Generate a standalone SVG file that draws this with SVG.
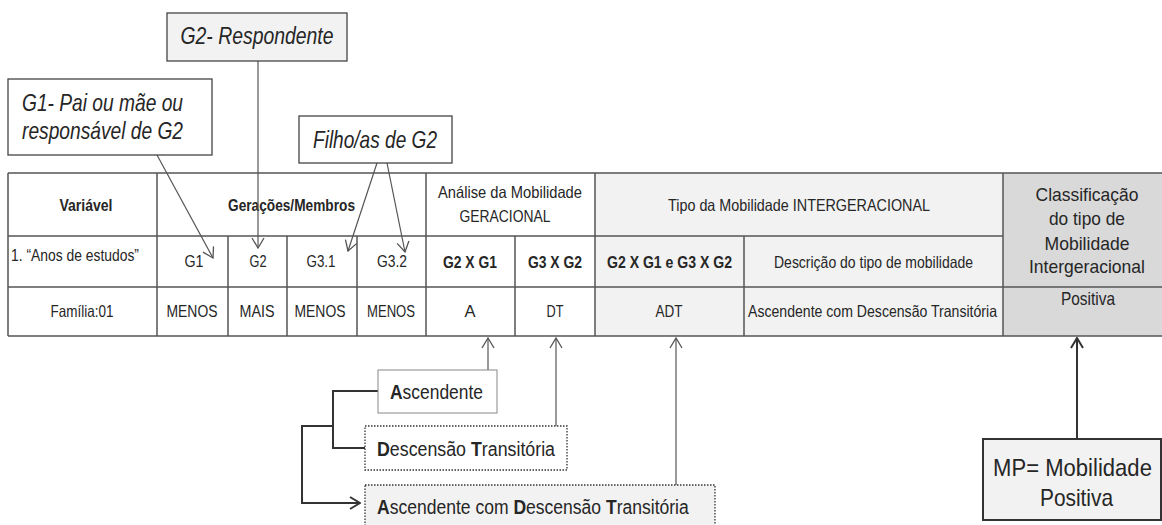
<svg xmlns="http://www.w3.org/2000/svg" width="1162" height="525" viewBox="0 0 1162 525">
<style>
text{font-family:"Liberation Sans Narrow","Liberation Sans",Arial,sans-serif;fill:#262626}
.t{font-size:16.5px}
.b{font-weight:bold}
.c{text-anchor:middle}
.cl{font-size:19px}
.it{font-size:24px;font-style:italic}
.lg{font-size:20px}
.mp{font-size:24px}
.grid{stroke:#555;stroke-width:1.5;fill:none}
.conn{stroke:#555;stroke-width:1.2;fill:none}
.dark{stroke:#333;stroke-width:2;fill:none}
</style>
<defs>
<marker id="ah" viewBox="0 0 12 14" refX="11" refY="7" markerWidth="12" markerHeight="14" markerUnits="userSpaceOnUse" orient="auto">
<path d="M1,1 L11,7 L1,13" fill="none" stroke="#555" stroke-width="1.3"/>
</marker>
<marker id="ahd" viewBox="0 0 12 14" refX="11" refY="7" markerWidth="12" markerHeight="14" markerUnits="userSpaceOnUse" orient="auto">
<path d="M1,1 L11,7 L1,13" fill="none" stroke="#333" stroke-width="2"/>
</marker>
</defs>
<rect width="1162" height="525" fill="#fff"/>

<g id="table">
<rect x="595" y="173" width="408" height="163" fill="#f2f2f2"/>
<rect x="1003" y="173" width="159" height="163" fill="#d9d9d9"/>
<path class="grid" d="M8,173 H1162 M8,336 H1162 M8,236 H1003 M8,287 H1162 M8,173 V336 M157,173 V336 M228,236 V336 M287,236 V336 M357,236 V336 M426,173 V336 M515,236 V336 M595,173 V336 M744,236 V336 M1003,173 V336"/>
<text class="t b c" x="86" y="211" textLength="53" lengthAdjust="spacingAndGlyphs">Variável</text>
<text class="t b c" x="291.5" y="211" textLength="127" lengthAdjust="spacingAndGlyphs">Gerações/Membros</text>
<text class="t c" x="510" y="198" textLength="144" lengthAdjust="spacingAndGlyphs">Análise  da Mobilidade</text>
<text class="t c" x="505" y="222" textLength="91" lengthAdjust="spacingAndGlyphs">GERACIONAL</text>
<text class="t c" x="799" y="211" textLength="262" lengthAdjust="spacingAndGlyphs">Tipo da Mobilidade  INTERGERACIONAL</text>
<text class="cl c" x="1087" y="201" textLength="103" lengthAdjust="spacingAndGlyphs">Classificação</text>
<text class="cl c" x="1087" y="225" textLength="76" lengthAdjust="spacingAndGlyphs">do tipo de</text>
<text class="cl c" x="1087" y="250" textLength="85" lengthAdjust="spacingAndGlyphs">Mobilidade</text>
<text class="cl c" x="1087" y="273" textLength="116" lengthAdjust="spacingAndGlyphs">Intergeracional</text>

<text class="t" x="11" y="261" textLength="128" lengthAdjust="spacingAndGlyphs">1.  “Anos de estudos”</text>
<text class="t c" x="194" y="267" textLength="19" lengthAdjust="spacingAndGlyphs">G1</text>
<text class="t c" x="258" y="267" textLength="17" lengthAdjust="spacingAndGlyphs">G2</text>
<text class="t c" x="321" y="267" textLength="29" lengthAdjust="spacingAndGlyphs">G3.1</text>
<text class="t c" x="392" y="267" textLength="30" lengthAdjust="spacingAndGlyphs">G3.2</text>
<text class="t b c" x="470" y="268" textLength="54" lengthAdjust="spacingAndGlyphs">G2 X G1</text>
<text class="t b c" x="555" y="268" textLength="54" lengthAdjust="spacingAndGlyphs">G3 X G2</text>
<text class="t b c" x="669.5" y="268" textLength="125" lengthAdjust="spacingAndGlyphs">G2 X G1 e G3 X G2</text>
<text class="t c" x="873.5" y="268" textLength="199" lengthAdjust="spacingAndGlyphs">Descrição do tipo de mobilidade</text>

<text class="t c" x="82" y="317" textLength="63" lengthAdjust="spacingAndGlyphs">Família:01</text>
<text class="t c" x="192" y="317" textLength="51" lengthAdjust="spacingAndGlyphs">MENOS</text>
<text class="t c" x="257" y="317" textLength="35" lengthAdjust="spacingAndGlyphs">MAIS</text>
<text class="t c" x="320" y="317" textLength="51" lengthAdjust="spacingAndGlyphs">MENOS</text>
<text class="t c" x="391" y="317" textLength="48" lengthAdjust="spacingAndGlyphs">MENOS</text>
<text class="t c" x="470" y="317">A</text>
<text class="t c" x="555" y="317" textLength="17" lengthAdjust="spacingAndGlyphs">DT</text>
<text class="t c" x="669" y="317" textLength="27" lengthAdjust="spacingAndGlyphs">ADT</text>
<text class="t c" x="872.5" y="317" textLength="249" lengthAdjust="spacingAndGlyphs">Ascendente com Descensão Transitória</text>
<text class="cl c" x="1088" y="305" textLength="54" lengthAdjust="spacingAndGlyphs">Positiva</text>
</g>

<g id="connectors">
<line class="conn" x1="157" y1="155" x2="213" y2="258" marker-end="url(#ah)"/>
<line class="conn" x1="258" y1="61" x2="258" y2="248" marker-end="url(#ah)"/>
<line class="conn" x1="377" y1="163" x2="348" y2="251" marker-end="url(#ah)"/>
<line class="conn" x1="387" y1="163" x2="405" y2="252" marker-end="url(#ah)"/>
<line class="conn" x1="488" y1="370" x2="488" y2="338" marker-end="url(#ah)"/>
<line class="conn" x1="556" y1="426" x2="556" y2="338" marker-end="url(#ah)"/>
<line class="conn" x1="676" y1="485" x2="676" y2="338" marker-end="url(#ah)"/>
<line class="dark" x1="1077" y1="439" x2="1077" y2="338" marker-end="url(#ahd)"/>
<path class="dark" d="M378,391 H333 V448 H365"/>
<path class="dark" d="M333,426 H302 V503 H360" marker-end="url(#ahd)"/>
</g>

<g id="g2-box">
<rect x="167" y="13" width="180" height="48" fill="#f2f2f2" stroke="#444" stroke-width="1.3"/>
<text class="it c" x="257" y="44" textLength="153" lengthAdjust="spacingAndGlyphs">G2- Respondente</text>
</g>
<g id="g1-box">
<rect x="8" y="79" width="204" height="76" fill="#fff" stroke="#444" stroke-width="1.3"/>
<text class="it" x="22" y="111" textLength="161" lengthAdjust="spacingAndGlyphs">G1- Pai ou mãe ou</text>
<text class="it" x="22" y="139" textLength="161" lengthAdjust="spacingAndGlyphs">responsável de G2</text>
</g>
<g id="filho-box">
<rect x="299" y="116" width="153" height="47" fill="#fff" stroke="#444" stroke-width="1.3"/>
<text class="it c" x="375" y="148" textLength="124" lengthAdjust="spacingAndGlyphs">Filho/as de G2</text>
</g>

<g id="ascendente">
<rect x="378" y="370" width="119" height="43" fill="#fff" stroke="#888" stroke-width="1"/>
<text class="lg" transform="translate(390,399) scale(0.872,1)"><tspan class="b">A</tspan>scendente</text>
</g>
<g id="descensao">
<rect x="365" y="426" width="202" height="44" fill="#fff" stroke="#333" stroke-width="1.3" stroke-dasharray="1.5 1.5"/>
<text class="lg" transform="translate(377,456) scale(0.89,1)"><tspan class="b">D</tspan>escensão <tspan class="b">T</tspan>ransitória</text>
</g>
<g id="adt">
<rect x="365" y="485" width="350" height="50" fill="#f2f2f2" stroke="#333" stroke-width="1.3" stroke-dasharray="1.5 1.5"/>
<text class="lg" transform="translate(377,514) scale(0.877,1)"><tspan class="b">A</tspan>scendente com <tspan class="b">D</tspan>escensão <tspan class="b">T</tspan>ransitória</text>
</g>
<g id="mp-box">
<rect x="983" y="439" width="178" height="81" fill="#f2f2f2" stroke="#333" stroke-width="2"/>
<text class="mp c" transform="translate(1072.5,476) scale(0.92,1)">MP= Mobilidade</text>
<text class="mp c" transform="translate(1076.5,506) scale(0.87,1)">Positiva</text>
</g>
</svg>
